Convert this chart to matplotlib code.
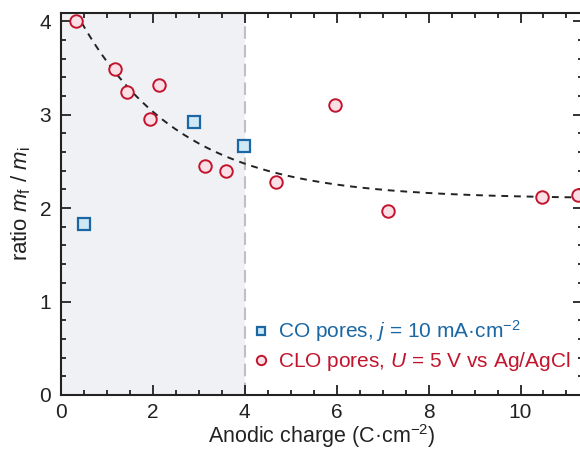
import matplotlib
matplotlib.use("Agg")
import matplotlib.pyplot as plt
import numpy as np
from matplotlib.ticker import MultipleLocator

plt.rcParams['font.family'] = ['Liberation Sans', 'DejaVu Sans']
plt.rcParams['mathtext.fontset'] = 'custom'
plt.rcParams['mathtext.rm'] = 'Liberation Sans'
plt.rcParams['mathtext.it'] = 'Liberation Sans:italic'
plt.rcParams['font.size'] = 15

# CO pores (j = 10 mA/cm2)
co_charge = [0.49, 2.89, 3.99]
co_ratio = [1.83, 2.92, 2.66]

# CLO pores (U = 5 V vs Ag/AgCl)
clo_charge = [0.33, 1.18, 1.43, 1.93, 2.14, 3.13, 3.58, 4.67, 5.97, 7.12, 10.46, 11.26]
clo_ratio = [4.00, 3.49, 3.24, 2.95, 3.32, 2.45, 2.40, 2.28, 3.10, 1.97, 2.115, 2.14]

# exponential decay guide line (parameters)
fit_offset = 2.10
fit_amp = 2.31
fit_decay = 2.2
fit_start, fit_end = 0.45, 11.4

shade_end = 4.0

blue = '#1a67a3'
blue_face = '#cfe8f6'
red = '#c2142d'
red_face = '#fbdfe6'

fig = plt.figure(figsize=(5.8, 4.53), dpi=100)
ax = fig.add_axes([61/580, 1-395/453, 522/580, (395-12.7)/453])

ax.axvspan(0, shade_end, color='#f0f1f4', lw=0, zorder=0)
ax.axvline(shade_end, color='#c0c0c0', lw=1.5, ls=(0, (6, 3)), zorder=1)

xf = np.linspace(fit_start, fit_end, 200)
ax.plot(xf, fit_offset + fit_amp*np.exp(-xf/fit_decay), color='#222222', lw=1.4,
        ls=(0, (3.5, 3)), zorder=2)

ax.plot(co_charge, co_ratio, 's', ms=8, mfc=blue_face, mec=blue, mew=1.6, zorder=3,
        label=r'CO pores, $j$ = 10 mA·cm$^{\mathregular{−2}}$')
ax.plot(clo_charge, clo_ratio, 'o', ms=9, mfc=red_face, mec=red, mew=1.4, zorder=3,
        label=r'CLO pores, $U$ = 5 V vs Ag/AgCl', clip_on=False)

ax.set_xlim(0, 11.36)
ax.set_ylim(0, 4.09)
ax.xaxis.set_major_locator(MultipleLocator(2))
ax.xaxis.set_minor_locator(MultipleLocator(0.5))
ax.yaxis.set_major_locator(MultipleLocator(1))
ax.yaxis.set_minor_locator(MultipleLocator(0.2))
ax.tick_params(which='both', direction='in', top=True, right=True, width=1.3, colors='#222222',
               labelcolor='#222222')
ax.tick_params(axis='x', which='major', length=7, pad=6)
ax.tick_params(axis='y', which='major', length=7, pad=7)
ax.tick_params(which='minor', length=3.5)
for s in ax.spines.values():
    s.set_linewidth(1.5)
    s.set_color('#222222')

ax.set_xlabel('Anodic charge (C·cm$^{\\mathregular{−2}}$)', fontsize=15.5, labelpad=0, color='#222222')
ax.set_ylabel(r'ratio $m_{\mathregular{f}}$ / $m_{\mathregular{i}}$', fontsize=16, labelpad=5,
              color='#222222')

leg = ax.legend(loc='lower left', bbox_to_anchor=(0.355, 0.035), frameon=False,
                handlelength=0.6, handletextpad=0.5, labelspacing=0.3, borderaxespad=0,
                markerscale=0.75)
for t, c in zip(leg.get_texts(), [blue, red]):
    t.set_color(c)

fig.savefig('out.png', dpi=100)
